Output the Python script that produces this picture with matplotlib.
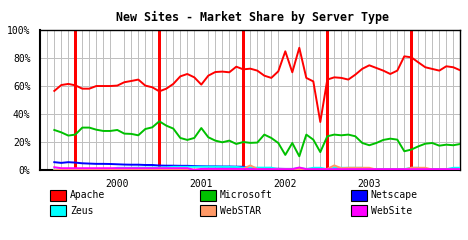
import matplotlib
matplotlib.use("Agg")
import matplotlib.pyplot as plt
from matplotlib.patches import Rectangle

# months counted from the left edge of the plot (0..60)
months = list(range(2, 61))

apache = [56.7, 60.9, 61.7, 60.7, 58.3, 58.3, 60.2, 60.2, 60.2, 60.5,
          62.9, 63.8, 64.8, 60.5, 59.3, 56.4, 58.3, 61.7, 67.1, 68.8,
          66.4, 61.2, 67.6, 70.2, 70.5, 70.0, 74.0, 72.1, 72.6, 71.2,
          67.6, 66.0, 70.7, 85.0, 70.0, 87.5, 66.0, 63.5, 34.5, 64.8,
          66.4, 66.0, 64.8, 68.3, 72.5, 75.0, 73.1, 71.2, 68.8, 71.2,
          81.4, 80.7, 77.1, 73.6, 72.4, 71.2, 74.3, 73.6, 71.4]
microsoft = [28.8, 27.1, 24.8, 25.5, 30.5, 30.5, 29.0, 28.1, 28.1, 28.8,
             26.2, 26.0, 25.0, 29.5, 30.7, 35.0, 31.9, 29.8, 23.1, 21.7,
             23.1, 30.2, 23.6, 21.2, 20.0, 21.2, 18.8, 20.2, 19.6, 19.8,
             25.5, 23.1, 19.5, 11.0, 19.5, 10.0, 25.5, 21.9, 13.0, 24.3,
             25.5, 25.0, 25.5, 24.3, 19.5, 17.9, 19.5, 21.7, 22.6, 21.9,
             13.6, 14.8, 17.1, 19.0, 19.5, 17.6, 18.3, 17.9, 18.8]
netscape = [5.8, 5.3, 5.8, 5.5, 5.0, 4.8, 4.6, 4.6, 4.5, 4.3,
            4.1, 4.0, 4.0, 3.8, 3.8, 3.4, 3.3, 3.3, 3.2, 3.2,
            3.0, 2.9, 2.8, 2.8, 2.7, 2.7, 2.6, 2.5, 1.2, 1.2,
            1.1, 1.1, 1.1, 1.0, 1.0, 1.0, 1.0, 1.0, 0.9, 0.9,
            0.9, 0.9, 0.9, 0.9, 0.9, 0.8, 0.8, 0.8, 0.8, 0.8,
            0.8, 0.8, 0.8, 0.8, 0.8, 0.8, 0.8, 0.8, 0.8]
zeus = [0.5, 0.5, 0.5, 0.5, 0.6, 0.6, 0.6, 0.7, 0.8, 1.8,
        1.8, 1.8, 1.9, 1.9, 2.0, 2.0, 2.1, 2.5, 2.5, 2.5,
        2.5, 2.6, 2.6, 2.6, 2.5, 2.5, 2.4, 1.9, 1.9, 1.9,
        1.9, 1.9, 0.8, 0.8, 0.8, 1.8, 0.8, 1.8, 1.8, 0.8,
        1.8, 1.8, 1.8, 1.8, 1.8, 0.8, 0.8, 0.8, 0.8, 0.8,
        0.8, 1.8, 1.8, 0.8, 0.8, 0.8, 0.8, 1.8, 1.8]
webstar = [0.3, 0.3, 0.3, 0.3, 0.3, 0.3, 0.3, 0.3, 0.3, 0.3,
           0.3, 0.3, 0.4, 0.4, 0.4, 0.4, 0.4, 0.4, 0.4, 0.5,
           0.5, 0.5, 0.5, 0.5, 0.5, 0.5, 0.5, 1.0, 3.5, 1.0,
           0.5, 0.5, 0.5, 0.5, 0.5, 1.0, 0.5, 0.5, 0.5, 1.0,
           3.5, 1.5, 1.8, 1.8, 1.8, 1.8, 0.5, 0.5, 0.5, 0.5,
           0.5, 1.8, 1.8, 1.8, 0.5, 0.5, 0.5, 0.5, 0.5]
website = [2.2, 1.5, 1.5, 1.5, 1.5, 1.5, 1.5, 1.5, 1.5, 1.5,
           1.5, 1.5, 1.5, 1.5, 1.5, 1.5, 1.5, 1.5, 1.5, 1.5,
           0.3, 1.0, 1.0, 1.0, 1.0, 1.0, 1.0, 1.0, 0.8, 0.8,
           0.8, 0.8, 0.8, 0.8, 0.8, 2.0, 0.8, 0.8, 0.8, 0.8,
           0.8, 0.8, 0.8, 0.8, 0.8, 0.8, 0.8, 0.8, 0.8, 0.8,
           0.8, 0.8, 0.8, 0.8, 0.8, 0.8, 0.8, 0.8, 0.8]

names = ["Apache", "Microsoft", "Netscape", "Zeus", "WebSTAR", "WebSite"]
series = [apache, microsoft, netscape, zeus, webstar, website]
colors = ["#ff0000", "#00c000", "#0000ff", "#00ffff", "#ff9966", "#ff00ff"]

year_labels = ["2000", "2001", "2002", "2003"]
year_label_pos = [11, 23, 35, 47]
year_lines = [5, 17, 29, 41, 53]

mono = "DejaVu Sans Mono"

fig = plt.figure(figsize=(4.68, 2.4), dpi=100)
W, H = 468, 240
ax = fig.add_axes([40.3 / W, 1 - 170.3 / H, 420 / W, 140 / H])

ax.set_xlim(0, 60)
ax.set_ylim(0, 100)

# grid: grey month lines, red year lines
ax.set_xticks([m for m in range(1, 60) if m not in year_lines], minor=True)
ax.grid(True, which="minor", axis="x", color="#c0c0c0", lw=0.72)
ax.set_yticks([0, 20, 40, 60, 80, 100])
ax.grid(True, which="major", axis="y", color="#c0c0c0", lw=0.72)
ax.set_axisbelow(True)
for m in year_lines:
    ax.axvline(m, color="#ff0000", lw=0.75, zorder=1.5, antialiased=False)

for vals, c in zip(series, colors):
    ax.plot(months, vals, color=c, lw=1.4, zorder=3)

ax.set_yticklabels([f"{v}%" for v in [0, 20, 40, 60, 80, 100]],
                   family=mono, fontsize=7)
ax.set_xticks(year_label_pos)
ax.set_xticklabels(year_labels, family=mono, fontsize=7)
ax.tick_params(which="both", length=0)
ax.tick_params(axis="y", pad=7)
ax.tick_params(axis="x", pad=6)

for s in ["left", "bottom"]:
    ax.spines[s].set_linewidth(1.5)
for s in ["top", "right"]:
    ax.spines[s].set_linewidth(1.0)

fig.text(252 / W, 1 - 17 / H, "New Sites - Market Share by Server Type",
         family=mono, fontsize=8.4, fontweight="bold", ha="center", va="center")

# legend: three columns, two rows (column-major order)
col_x = [50, 200, 350.7]
row_y = [195.3, 210.8]
order = [0, 3, 1, 4, 2, 5]
for k, idx in enumerate(order):
    cx = col_x[k // 2]
    cy = row_y[k % 2]
    fig.patches.append(Rectangle((cx / W, 1 - (cy + 5.5) / H), 16 / W, 11 / H,
                                 facecolor=colors[idx], edgecolor="black",
                                 lw=0.8, transform=fig.transFigure))
    fig.text((cx + 20) / W, 1 - cy / H, names[idx], family=mono,
             fontsize=7, ha="left", va="center")

fig.savefig("out.png", dpi=100)
